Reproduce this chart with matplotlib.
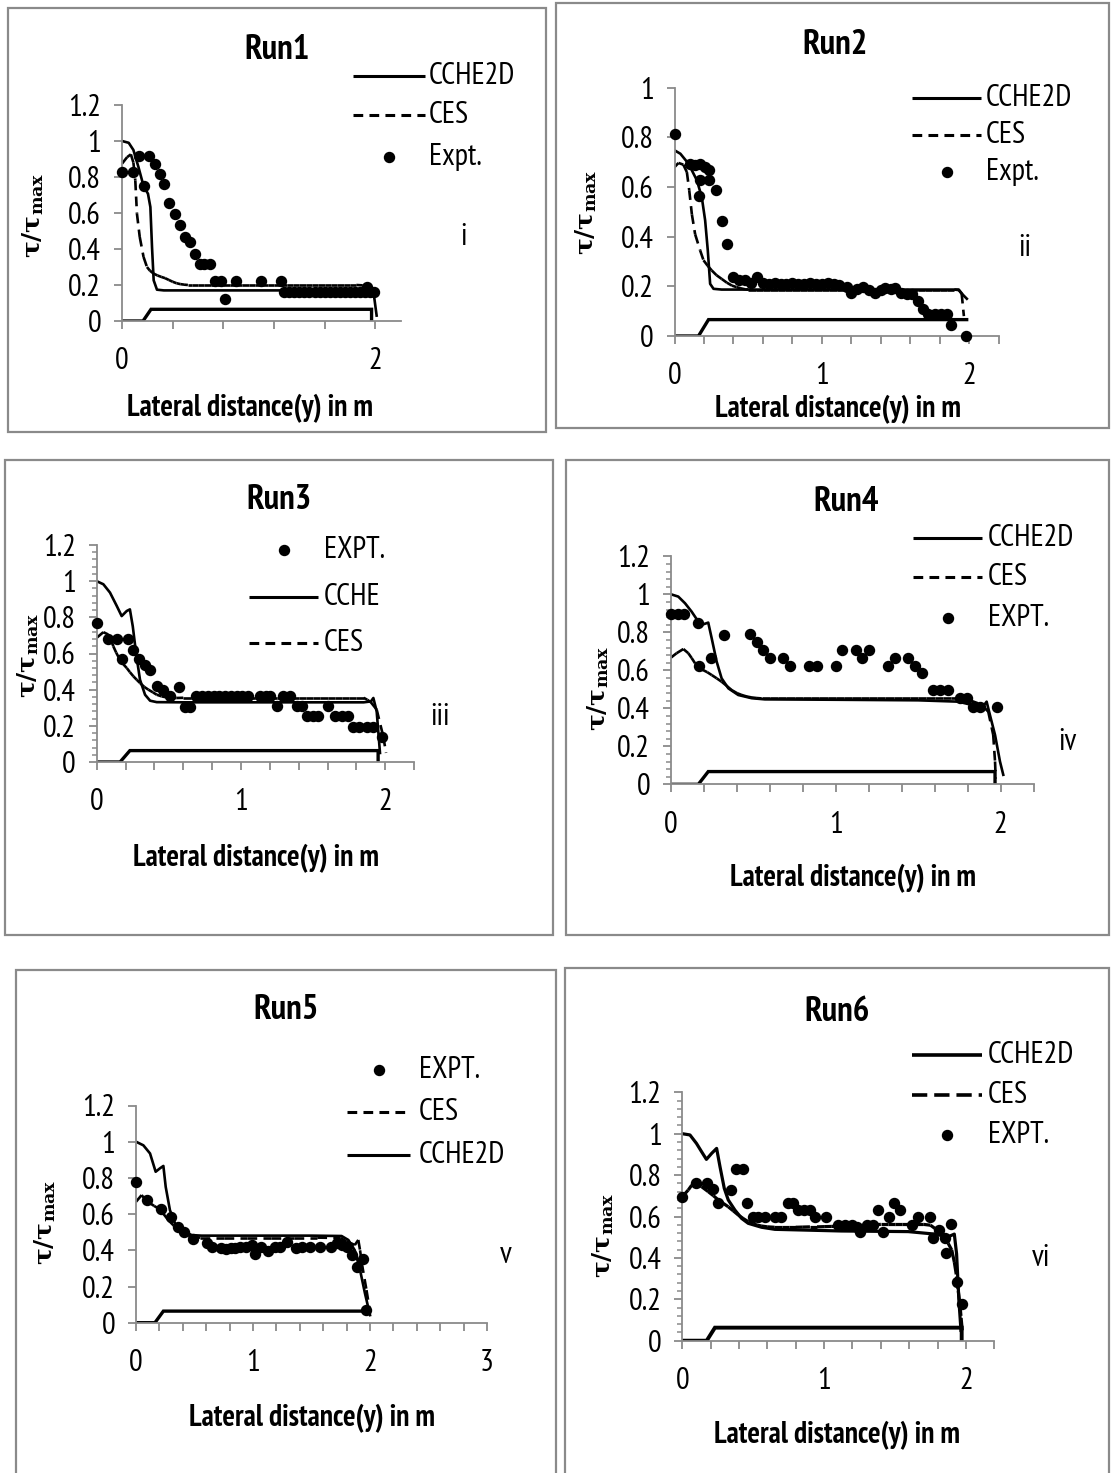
import numpy as np
import matplotlib
matplotlib.use('Agg')
import matplotlib.pyplot as plt
from matplotlib import font_manager
from matplotlib.font_manager import FontProperties
from matplotlib.textpath import TextPath
from matplotlib.collections import LineCollection
from matplotlib.lines import Line2D
from matplotlib.patches import Rectangle
from matplotlib.ticker import MultipleLocator

plt.rcParams['lines.scale_dashes'] = False

W, H = 1111, 1473

# ---------------- DATA ----------------
# Run1
p1_cche_x = [0, 0.053, 0.09, 0.13, 0.17, 0.205, 0.224, 0.237, 0.25, 0.276, 0.33, 0.6, 1.0, 1.5, 1.93, 1.987, 2.01]
p1_cche_y = [1.0, 0.99, 0.95, 0.855, 0.75, 0.707, 0.633, 0.41, 0.226, 0.174, 0.17, 0.17, 0.17, 0.17, 0.17, 0.152, 0.03]
p1_ces_x = [0, 0.04, 0.07, 0.09, 0.105, 0.118, 0.14, 0.17, 0.197, 0.22, 0.25, 0.28, 0.31, 0.34, 0.37, 0.40, 0.43, 0.46, 0.49, 0.52, 0.55,
            0.60, 0.65, 0.70, 0.75, 0.80, 0.85, 0.90, 0.95, 1.00, 1.05, 1.10, 1.15, 1.20, 1.25, 1.30, 1.35, 1.40, 1.45, 1.50, 1.55,
            1.60, 1.65, 1.70, 1.75, 1.80, 1.85, 1.90, 1.93, 1.96, 1.98]
p1_ces_y = [0.874, 0.91, 0.926, 0.88, 0.78, 0.596, 0.467, 0.356, 0.30, 0.28, 0.263, 0.253, 0.245, 0.238, 0.228, 0.218, 0.21, 0.205, 0.202, 0.20, 0.20,
            0.20, 0.20, 0.20, 0.20, 0.20, 0.20, 0.20, 0.20, 0.20, 0.20, 0.20, 0.20, 0.20, 0.20, 0.20, 0.20, 0.20, 0.20, 0.20, 0.20,
            0.20, 0.20, 0.20, 0.20, 0.20, 0.20, 0.198, 0.19, 0.175, 0.16]
p1_expt_x = [0.0, 0.09, 0.137, 0.176, 0.21, 0.258, 0.297, 0.334, 0.374, 0.416, 0.455, 0.50, 0.54, 0.579, 0.613, 0.647, 0.697,
             0.737, 0.784, 0.816, 0.90, 1.097, 1.258, 1.28, 1.32, 1.36, 1.40, 1.44, 1.48, 1.52, 1.56, 1.60, 1.64, 1.68, 1.72,
             1.76, 1.80, 1.84, 1.88, 1.92, 1.934, 1.96, 1.99]
p1_expt_y = [0.83, 0.83, 0.915, 0.75, 0.915, 0.874, 0.815, 0.763, 0.656, 0.596, 0.531, 0.467, 0.439, 0.37, 0.315, 0.315, 0.315,
             0.222, 0.222, 0.12, 0.222, 0.222, 0.222, 0.16, 0.16, 0.16, 0.16, 0.16, 0.16, 0.16, 0.16, 0.16, 0.16, 0.16, 0.16,
             0.16, 0.16, 0.16, 0.16, 0.16, 0.19, 0.16, 0.16]
p1_bed_x = [0, 0.166, 0.229, 1.97, 1.97]
p1_bed_y = [0, 0, 0.065, 0.065, 0.005]

# Run2
p2_cche_x = [0, 0.04, 0.095, 0.152, 0.185, 0.208, 0.226, 0.242, 0.265, 0.32, 0.6, 1.0, 1.5, 1.93, 1.96, 1.985]
p2_cche_y = [0.748, 0.734, 0.694, 0.627, 0.56, 0.466, 0.345, 0.21, 0.19, 0.187, 0.187, 0.187, 0.187, 0.187, 0.165, 0.15]
p2_ces_x = [0, 0.027, 0.06, 0.084, 0.10, 0.118, 0.14, 0.174, 0.197, 0.225, 0.253, 0.285, 0.32, 0.355, 0.39, 0.42, 0.45, 0.48,
            0.50, 0.55, 0.60, 0.65, 0.70, 0.75, 0.80, 0.85, 0.90, 0.95, 1.00, 1.05, 1.10, 1.15, 1.20, 1.25, 1.30, 1.35, 1.40,
            1.45, 1.50, 1.55, 1.60, 1.65, 1.70, 1.75, 1.80, 1.85, 1.90, 1.93, 1.95, 1.965]
p2_ces_y = [0.68, 0.697, 0.69, 0.66, 0.587, 0.49, 0.41, 0.345, 0.305, 0.283, 0.264, 0.245, 0.23, 0.215, 0.203, 0.197, 0.192, 0.188,
            0.187, 0.187, 0.187, 0.187, 0.187, 0.187, 0.187, 0.187, 0.187, 0.187, 0.187, 0.187, 0.187, 0.187, 0.187, 0.187, 0.187, 0.187, 0.187,
            0.187, 0.187, 0.187, 0.187, 0.187, 0.187, 0.187, 0.187, 0.187, 0.187, 0.185, 0.17, 0.08]
p2_expt_x = [0.0, 0.106, 0.14, 0.17, 0.204, 0.235, 0.17, 0.235, 0.163, 0.28, 0.321, 0.357, 0.40, 0.44, 0.48, 0.52, 0.559, 0.60,
             0.64, 0.68, 0.72, 0.76, 0.80, 0.84, 0.88, 0.92, 0.96, 1.00, 1.04, 1.08, 1.12, 1.17, 1.20, 1.24, 1.28, 1.32, 1.36,
             1.40, 1.43, 1.47, 1.50, 1.54, 1.58, 1.61, 1.656, 1.69, 1.72, 1.77, 1.81, 1.85, 1.88, 1.98]
p2_expt_y = [0.815, 0.691, 0.69, 0.691, 0.68, 0.67, 0.63, 0.63, 0.562, 0.589, 0.463, 0.372, 0.238, 0.225, 0.227, 0.215, 0.238, 0.213,
             0.21, 0.215, 0.21, 0.21, 0.213, 0.21, 0.21, 0.213, 0.21, 0.21, 0.213, 0.21, 0.205, 0.197, 0.173, 0.19, 0.197, 0.185, 0.173,
             0.185, 0.195, 0.19, 0.195, 0.173, 0.17, 0.17, 0.141, 0.11, 0.087, 0.087, 0.087, 0.087, 0.043, 0.0]
p2_bed_x = [0, 0.163, 0.231, 1.984]
p2_bed_y = [0, 0, 0.066, 0.066]

# Run3
p3_cche_x = [0, 0.046, 0.092, 0.139, 0.173, 0.208, 0.23, 0.25, 0.273, 0.30, 0.335, 0.37, 0.416, 0.6, 1.0, 1.5, 1.85, 1.90, 1.917, 1.94, 1.963]
p3_cche_y = [1.0, 0.983, 0.937, 0.863, 0.807, 0.835, 0.844, 0.75, 0.60, 0.455, 0.372, 0.339, 0.331, 0.33, 0.33, 0.33, 0.33, 0.335, 0.354, 0.28, 0.05]
p3_ces_x = [0, 0.046, 0.08, 0.10, 0.115, 0.135, 0.16, 0.185, 0.208, 0.23, 0.254, 0.277, 0.30, 0.33, 0.358, 0.39, 0.416, 0.45, 0.485, 0.52, 0.554,
            0.60, 0.65, 0.70, 0.75, 0.80, 0.85, 0.90, 0.95, 1.00, 1.05, 1.10, 1.15, 1.20, 1.25, 1.30, 1.35, 1.40, 1.45, 1.50, 1.55,
            1.60, 1.65, 1.70, 1.75, 1.80, 1.85, 1.875, 1.90, 1.94, 1.986, 2.005]
p3_ces_y = [0.687, 0.718, 0.705, 0.675, 0.64, 0.605, 0.567, 0.54, 0.52, 0.497, 0.474, 0.455, 0.437, 0.415, 0.40, 0.385, 0.372, 0.363, 0.357, 0.355, 0.354,
            0.355, 0.355, 0.355, 0.355, 0.355, 0.355, 0.355, 0.355, 0.355, 0.355, 0.355, 0.355, 0.355, 0.355, 0.355, 0.355, 0.355, 0.355, 0.355, 0.355,
            0.355, 0.355, 0.355, 0.355, 0.355, 0.355, 0.344, 0.33, 0.29, 0.14, 0.05]
p3_expt_x = [0.0, 0.08, 0.139, 0.173, 0.22, 0.25, 0.296, 0.335, 0.37, 0.416, 0.46, 0.508, 0.572, 0.612, 0.646,
             0.69, 0.73, 0.77, 0.81, 0.85, 0.89, 0.93, 0.97, 1.01, 1.05, 1.13, 1.17, 1.20, 1.247, 1.29, 1.34, 1.386,
             1.42, 1.455, 1.497, 1.536, 1.605, 1.65, 1.70, 1.74, 1.778, 1.82, 1.87, 1.917, 1.975]
p3_expt_y = [0.77, 0.678, 0.678, 0.57, 0.678, 0.622, 0.57, 0.539, 0.511, 0.418, 0.40, 0.363, 0.415, 0.304, 0.304,
             0.363, 0.363, 0.363, 0.363, 0.363, 0.363, 0.363, 0.363, 0.363, 0.363, 0.363, 0.363, 0.363, 0.307, 0.363, 0.363, 0.307,
             0.307, 0.252, 0.252, 0.252, 0.307, 0.252, 0.252, 0.252, 0.196, 0.196, 0.196, 0.196, 0.14]
p3_bed_x = [0, 0.162, 0.23, 1.95, 1.95]
p3_bed_y = [0, 0, 0.063, 0.063, 0.005]

# Run4
p4_cche_x = [0, 0.044, 0.085, 0.125, 0.166, 0.196, 0.226, 0.247, 0.277, 0.307, 0.348, 0.408, 0.49, 0.57, 1.0, 1.5,
             1.743, 1.824, 1.885, 1.915, 1.935, 1.966, 1.996, 2.016]
p4_cche_y = [1.0, 0.988, 0.953, 0.909, 0.856, 0.842, 0.851, 0.768, 0.646, 0.558, 0.505, 0.47, 0.453, 0.447, 0.445, 0.442,
             0.435, 0.418, 0.40, 0.435, 0.365, 0.26, 0.12, 0.05]
p4_ces_x = [0, 0.034, 0.075, 0.105, 0.125, 0.146, 0.166, 0.186, 0.22, 0.247, 0.277, 0.307, 0.338, 0.368, 0.40, 0.429, 0.46, 0.49, 0.52,
            0.55, 0.60, 0.65, 0.70, 0.75, 0.80, 0.85, 0.90, 0.95, 1.00, 1.05, 1.10, 1.15, 1.20, 1.25, 1.30, 1.35, 1.40, 1.45, 1.50,
            1.55, 1.60, 1.65, 1.70, 1.75, 1.784, 1.82, 1.864, 1.90, 1.925, 1.955, 1.966, 1.97]
p4_ces_y = [0.667, 0.69, 0.712, 0.69, 0.665, 0.637, 0.62, 0.605, 0.59, 0.575, 0.558, 0.54, 0.518, 0.496, 0.48, 0.47, 0.462, 0.457, 0.454,
            0.452, 0.452, 0.452, 0.452, 0.452, 0.452, 0.452, 0.452, 0.452, 0.452, 0.452, 0.452, 0.452, 0.452, 0.452, 0.452, 0.452, 0.452, 0.452, 0.452,
            0.452, 0.452, 0.452, 0.452, 0.452, 0.449, 0.44, 0.426, 0.405, 0.382, 0.26, 0.12, 0.03]
p4_expt_x = [0.0, 0.04, 0.08, 0.166, 0.172, 0.243, 0.322, 0.479, 0.52, 0.56, 0.60, 0.68, 0.72, 0.837, 0.884, 1.0, 1.04,
             1.12, 1.16, 1.20, 1.318, 1.36, 1.44, 1.48, 1.52, 1.59, 1.63, 1.68, 1.753, 1.794, 1.834, 1.875, 1.976]
p4_expt_y = [0.895, 0.895, 0.895, 0.851, 0.625, 0.667, 0.786, 0.79, 0.747, 0.707, 0.667, 0.667, 0.625, 0.625, 0.625, 0.625, 0.707,
             0.707, 0.667, 0.707, 0.625, 0.667, 0.667, 0.625, 0.584, 0.496, 0.496, 0.496, 0.453, 0.453, 0.409, 0.409, 0.409]
p4_bed_x = [0, 0.166, 0.226, 1.966, 1.966]
p4_bed_y = [0, 0, 0.067, 0.067, 0.005]

# Run5
p5_cche_x = [0, 0.063, 0.12, 0.168, 0.205, 0.234, 0.254, 0.29, 0.333, 0.39, 0.476, 0.56, 1.0, 1.5, 1.757, 1.815, 1.87, 1.915, 1.957, 2.0]
p5_cche_y = [1.0, 0.98, 0.935, 0.834, 0.853, 0.866, 0.75, 0.622, 0.549, 0.512, 0.484, 0.481, 0.481, 0.481, 0.479, 0.457, 0.40, 0.291, 0.162, 0.042]
p5_ces_x = [0, 0.048, 0.08, 0.12, 0.155, 0.19, 0.23, 0.276, 0.32, 0.362, 0.40, 0.447, 0.49, 0.53,
            0.55, 0.75, 0.95, 1.15, 1.35, 1.55, 1.75, 1.80, 1.835, 1.87, 1.90, 1.915, 1.93, 1.97, 2.0]
p5_ces_y = [0.668, 0.705, 0.68, 0.66, 0.645, 0.632, 0.605, 0.567, 0.538, 0.512, 0.495, 0.479, 0.474, 0.471,
            0.47, 0.47, 0.47, 0.47, 0.47, 0.47, 0.468, 0.447, 0.44, 0.429, 0.457, 0.40, 0.328, 0.18, 0.06]
p5_expt_x = [0.0, 0.091, 0.214, 0.30, 0.362, 0.413, 0.49, 0.604, 0.652, 0.73, 0.77, 0.81, 0.85, 0.89, 0.94, 0.99, 1.02,
             1.07, 1.13, 1.19, 1.23, 1.29, 1.37, 1.42, 1.49, 1.57, 1.67, 1.715, 1.76, 1.80, 1.843, 1.886, 1.943, 1.97]
p5_expt_y = [0.779, 0.678, 0.628, 0.582, 0.527, 0.50, 0.46, 0.438, 0.416, 0.41, 0.405, 0.41, 0.41, 0.42, 0.42, 0.43, 0.38,
             0.416, 0.398, 0.416, 0.42, 0.447, 0.41, 0.42, 0.42, 0.42, 0.42, 0.438, 0.43, 0.42, 0.374, 0.31, 0.35, 0.07]
p5_bed_x = [0, 0.162, 0.234, 1.97]
p5_bed_y = [0, 0, 0.064, 0.064]

# Run6
p6_cche_x = [0, 0.054, 0.10, 0.136, 0.17, 0.207, 0.242, 0.266, 0.296, 0.324, 0.371, 0.418, 0.465, 0.559, 0.653, 1.12,
             1.593, 1.78, 1.875, 1.918, 1.934, 1.95, 1.965]
p6_cche_y = [1.0, 0.994, 0.953, 0.913, 0.876, 0.905, 0.929, 0.84, 0.736, 0.68, 0.631, 0.591, 0.567, 0.548, 0.538, 0.53,
             0.527, 0.515, 0.502, 0.515, 0.42, 0.20, 0.05]
p6_ces_x = [0, 0.042, 0.065, 0.089, 0.136, 0.183, 0.22, 0.254, 0.29, 0.324, 0.36, 0.395, 0.43, 0.465, 0.50, 0.53, 0.559,
            0.60, 0.65, 0.70, 0.75, 0.80, 0.85, 0.90, 0.95, 1.00, 1.05, 1.10, 1.15, 1.20, 1.25, 1.30, 1.35, 1.40, 1.45,
            1.50, 1.55, 1.60, 1.65, 1.70, 1.75, 1.78, 1.81, 1.852, 1.875, 1.90, 1.918, 1.934, 1.946, 1.957, 1.966, 1.974]
p6_ces_y = [0.696, 0.728, 0.75, 0.768, 0.744, 0.72, 0.70, 0.68, 0.663, 0.647, 0.627, 0.607, 0.59, 0.575, 0.565, 0.558, 0.554,
            0.550, 0.548, 0.548, 0.548, 0.548, 0.549, 0.55, 0.55, 0.551, 0.552, 0.553, 0.554, 0.555, 0.556, 0.558, 0.56, 0.562, 0.562,
            0.562, 0.562, 0.562, 0.562, 0.562, 0.558, 0.543, 0.525, 0.502, 0.47, 0.438, 0.38, 0.31, 0.24, 0.18, 0.11, 0.05]
p6_expt_x = [0.0, 0.10, 0.176, 0.219, 0.254, 0.343, 0.378, 0.425, 0.454, 0.496, 0.536, 0.583, 0.653, 0.696, 0.743, 0.783,
             0.818, 0.86, 0.90, 0.935, 1.013, 1.10, 1.147, 1.194, 1.23, 1.253, 1.30, 1.347, 1.377, 1.417, 1.457, 1.495,
             1.537, 1.617, 1.66, 1.746, 1.77, 1.81, 1.852, 1.857, 1.894, 1.94, 1.974]
p6_expt_y = [0.696, 0.763, 0.763, 0.731, 0.663, 0.728, 0.828, 0.828, 0.667, 0.596, 0.596, 0.596, 0.596, 0.596, 0.663, 0.663,
             0.631, 0.631, 0.631, 0.596, 0.596, 0.559, 0.559, 0.559, 0.55, 0.527, 0.559, 0.559, 0.631, 0.527, 0.596, 0.667,
             0.631, 0.559, 0.596, 0.596, 0.494, 0.535, 0.494, 0.422, 0.562, 0.285, 0.177]
p6_bed_x = [0, 0.172, 0.23, 1.97, 1.97]
p6_bed_y = [0, 0, 0.063, 0.063, 0.005]

titles = ['Run1', 'Run2', 'Run3', 'Run4', 'Run5', 'Run6']
romans = ['i', 'ii', 'iii', 'iv', 'v', 'vi']
legend_labels = [
    [('cche', 'CCHE2D'), ('ces', 'CES'), ('expt', 'Expt.')],
    [('cche', 'CCHE2D'), ('ces', 'CES'), ('expt', 'Expt.')],
    [('expt', 'EXPT.'), ('cche', 'CCHE'), ('ces', 'CES')],
    [('cche', 'CCHE2D'), ('ces', 'CES'), ('expt', 'EXPT.')],
    [('expt', 'EXPT.'), ('ces', 'CES'), ('cche', 'CCHE2D')],
    [('cche', 'CCHE2D'), ('ces', 'CES'), ('expt', 'EXPT.')],
]
x_label_text = 'Lateral distance(y) in m'
y_label_text = r'$\mathbf{\tau/\tau_{max}}$'

series = [
    (p1_cche_x, p1_cche_y, p1_ces_x, p1_ces_y, p1_expt_x, p1_expt_y, p1_bed_x, p1_bed_y),
    (p2_cche_x, p2_cche_y, p2_ces_x, p2_ces_y, p2_expt_x, p2_expt_y, p2_bed_x, p2_bed_y),
    (p3_cche_x, p3_cche_y, p3_ces_x, p3_ces_y, p3_expt_x, p3_expt_y, p3_bed_x, p3_bed_y),
    (p4_cche_x, p4_cche_y, p4_ces_x, p4_ces_y, p4_expt_x, p4_expt_y, p4_bed_x, p4_bed_y),
    (p5_cche_x, p5_cche_y, p5_ces_x, p5_ces_y, p5_expt_x, p5_expt_y, p5_bed_x, p5_bed_y),
    (p6_cche_x, p6_cche_y, p6_ces_x, p6_ces_y, p6_expt_x, p6_expt_y, p6_bed_x, p6_bed_y),
]

# ---------------- FONTS: pick a narrow sans (Excel look) ----------------
_entries = font_manager.fontManager.ttflist
_candidates = ['PT Sans Narrow', 'Fira Sans Condensed', 'Roboto Condensed', 'Archivo Narrow', 'Pragati Narrow',
               'Asap Condensed', 'IBM Plex Sans Condensed', 'Encode Sans Condensed', 'Barlow Semi Condensed',
               'Carlito', 'Liberation Sans']


def _has(name, bold):
    for f in _entries:
        if f.name == name and f.style == 'normal':
            w = f.weight if isinstance(f.weight, int) else (700 if str(f.weight) == 'bold' else 400)
            if (bold and w >= 700) or (not bold and 350 <= w <= 500):
                return True
    return False


REG = next((c for c in _candidates if _has(c, False)), 'DejaVu Sans')
BOLD = next((c for c in _candidates if _has(c, True)), 'DejaVu Sans')
plt.rcParams['font.family'] = [REG, 'DejaVu Sans']


def fit_size(text, family, weight, target_w):
    fp = FontProperties(family=family, weight=weight, size=10)
    ext = TextPath((0, 0), text, size=10, prop=fp).get_extents()
    return target_w / (ext.width / 10 * 100.0 / 72.0)


FS_LEG = fit_size('CCHE2D', REG, 'normal', 84)
FS_TICK = FS_LEG
FS_TITLE = fit_size('Run1', BOLD, 'bold', 62)
FS_XL = fit_size(x_label_text, BOLD, 'bold', 244)
FS_YL = 18

# ---------------- LAYOUT (pixels from top-left) ----------------
layout = [
    dict(ax=(122, 400.7, 321, 105), xmax=2.2, ymax=1.2, xstep=0.4, xlab=[0, 2], minor=False,
         title=(277, 50), roman=(463, 237), xl=(250, 408), yl=(33, 215), box=(8, 8, 546, 432),
         leg=(353, 425, 429, (76, 115, 157)), lw=1.9, dash=(7, 4.5), ldash=(7, 4.5)),
    dict(ax=(674.5, 998.5, 336, 87.7), xmax=2.2, ymax=1.0, xstep=0.2, xlab=[0, 1, 2], minor=False,
         title=(835, 45), roman=(1025, 248), xl=(838, 409), yl=(586, 212), box=(556, 3, 1109, 428),
         leg=(912, 981, 986, (98, 135, 172)), lw=1.9, dash=(7, 4.5), ldash=(7, 4.5)),
    dict(ax=(96.7, 414.2, 762, 545), xmax=2.2, ymax=1.2, xstep=0.2, xlab=[0, 1, 2], minor=True,
         title=(279, 500), roman=(440, 717), xl=(256, 858), yl=(28, 655), box=(5, 460, 553, 935),
         leg=(249, 318, 324, (550, 597, 643)), lw=1.9, dash=(7, 4.5), ldash=(7, 4.5)),
    dict(ax=(671, 1033.6, 784.3, 556.3), xmax=2.2, ymax=1.2, xstep=0.2, xlab=[0, 1, 2], minor=True,
         title=(846, 502), roman=(1067, 742), xl=(853, 878), yl=(598, 688), box=(566, 460, 1109, 935),
         leg=(913, 982, 988, (538, 577, 618)), lw=1.9, dash=(7, 4.5), ldash=(7, 4.5)),
    dict(ax=(136, 487, 1322.7, 1105.5), xmax=3.0, ymax=1.2, xstep=0.2, xlab=[0, 1, 2, 3], minor=False,
         title=(286, 1010), roman=(506, 1255), xl=(312, 1418), yl=(45, 1222), box=(16, 970, 556, 1480),
         leg=(347, 410, 419, (1070, 1112, 1155)), lw=1.9, dash=(7, 4.5), ldash=(7, 4.5)),
    dict(ax=(682.3, 994.3, 1340.7, 1092.3), xmax=2.2, ymax=1.2, xstep=0.2, xlab=[0, 1, 2], minor=True,
         title=(837, 1012), roman=(1041, 1258), xl=(837, 1435), yl=(603, 1235), box=(565, 968, 1109, 1480),
         leg=(912, 982, 988, (1055, 1095, 1135)), lw=2.3, dash=(9, 4.5), ldash=(11, 5)),
]

GRAY = '#8a8a8a'
fig = plt.figure(figsize=(W / 100, H / 100), dpi=100)


def fx(px):
    return px / W


def fy(py):
    return 1 - py / H


def excel_dashed(ax, x, y, lw, dash):
    # Excel restarts the dash pattern at every data point
    pts = np.column_stack([x, y])
    segs = np.stack([pts[:-1], pts[1:]], axis=1)
    lc = LineCollection(segs, colors='black', linewidths=lw, linestyles=[(0, dash)],
                        capstyle='butt', zorder=2)
    ax.add_collection(lc)


for i, (L, S) in enumerate(zip(layout, series)):
    cx, cy, sx, sy, ex, ey, bx, by = S
    x0, x1, y0, yt = L['ax']
    ax = fig.add_axes([fx(x0), fy(y0), fx(x1) - fx(x0), fy(yt) - fy(y0)])
    ax.set_xlim(0, L['xmax'])
    ax.set_ylim(0, L['ymax'])
    ax.patch.set_alpha(0)
    for s in ['top', 'right']:
        ax.spines[s].set_visible(False)
    for s in ['left', 'bottom']:
        ax.spines[s].set_color(GRAY)
        ax.spines[s].set_linewidth(1.3)

    xt = np.arange(0, L['xmax'] + 1e-9, L['xstep'])
    ax.set_xticks(xt)
    ax.set_xticklabels([str(int(round(v))) if any(abs(v - l) < 1e-6 for l in L['xlab']) else '' for v in xt])
    yt_ = np.arange(0, L['ymax'] + 1e-9, 0.2)
    ax.set_yticks(yt_)
    ax.set_yticklabels([f'{v:g}' for v in np.round(yt_, 1)])
    ax.tick_params(axis='x', direction='out', length=5.5, width=1.3, color=GRAY, pad=13.5, labelsize=FS_TICK)
    ax.tick_params(axis='y', direction='out', length=6, width=1.3, color=GRAY, pad=9, labelsize=FS_TICK)
    if L['minor']:
        ax.yaxis.set_minor_locator(MultipleLocator(0.04))
        ax.tick_params(axis='y', which='minor', direction='out', length=3.5, width=1.1, color=GRAY)

    lw = L['lw']
    ax.plot(bx, by, color='black', lw=lw + 0.5, solid_joinstyle='miter', zorder=2)
    ax.plot(cx, cy, color='black', lw=lw, zorder=2)
    excel_dashed(ax, sx, sy, lw, L['dash'])
    ax.plot(ex, ey, 'o', color='black', ms=7.2, clip_on=False, zorder=3)

    # texts
    fig.text(fx(L['title'][0]), fy(L['title'][1]), titles[i], ha='center', va='center',
             fontsize=FS_TITLE, fontweight='bold', family=[BOLD, 'DejaVu Sans'])
    fig.text(fx(L['roman'][0]), fy(L['roman'][1]), romans[i], ha='center', va='center', fontsize=FS_LEG)
    fig.text(fx(L['xl'][0]), fy(L['xl'][1]), x_label_text, ha='center', va='center',
             fontsize=FS_XL, fontweight='bold', family=[BOLD, 'DejaVu Sans'])
    fig.text(fx(L['yl'][0]), fy(L['yl'][1]), y_label_text, ha='center', va='center',
             fontsize=FS_YL, rotation=90, math_fontfamily='dejavuserif')

    # legend
    hx0, hx1, tx, ys = L['leg']
    for (kind, lab), yy in zip(legend_labels[i], ys):
        if kind == 'cche':
            fig.add_artist(Line2D([fx(hx0), fx(hx1)], [fy(yy), fy(yy)], color='black', lw=lw + 0.3,
                                  solid_capstyle='butt'))
        elif kind == 'ces':
            fig.add_artist(Line2D([fx(hx0), fx(hx1)], [fy(yy), fy(yy)], color='black', lw=lw + 0.3,
                                  linestyle=(0, L['ldash']), dash_capstyle='butt'))
        else:
            fig.add_artist(Line2D([fx((hx0 + hx1) / 2)], [fy(yy)], marker='o', ms=7.2, color='black',
                                  linestyle='none'))
        fig.text(fx(tx), fy(yy), lab, ha='left', va='center', fontsize=FS_LEG)

    # chart-area border
    bl, bt, br, bb = L['box']
    fig.add_artist(Rectangle((fx(bl), fy(bb)), fx(br) - fx(bl), fy(bt) - fy(bb), transform=fig.transFigure,
                             fill=False, edgecolor=GRAY, lw=1.6))

fig.savefig('out.png', dpi=100)
